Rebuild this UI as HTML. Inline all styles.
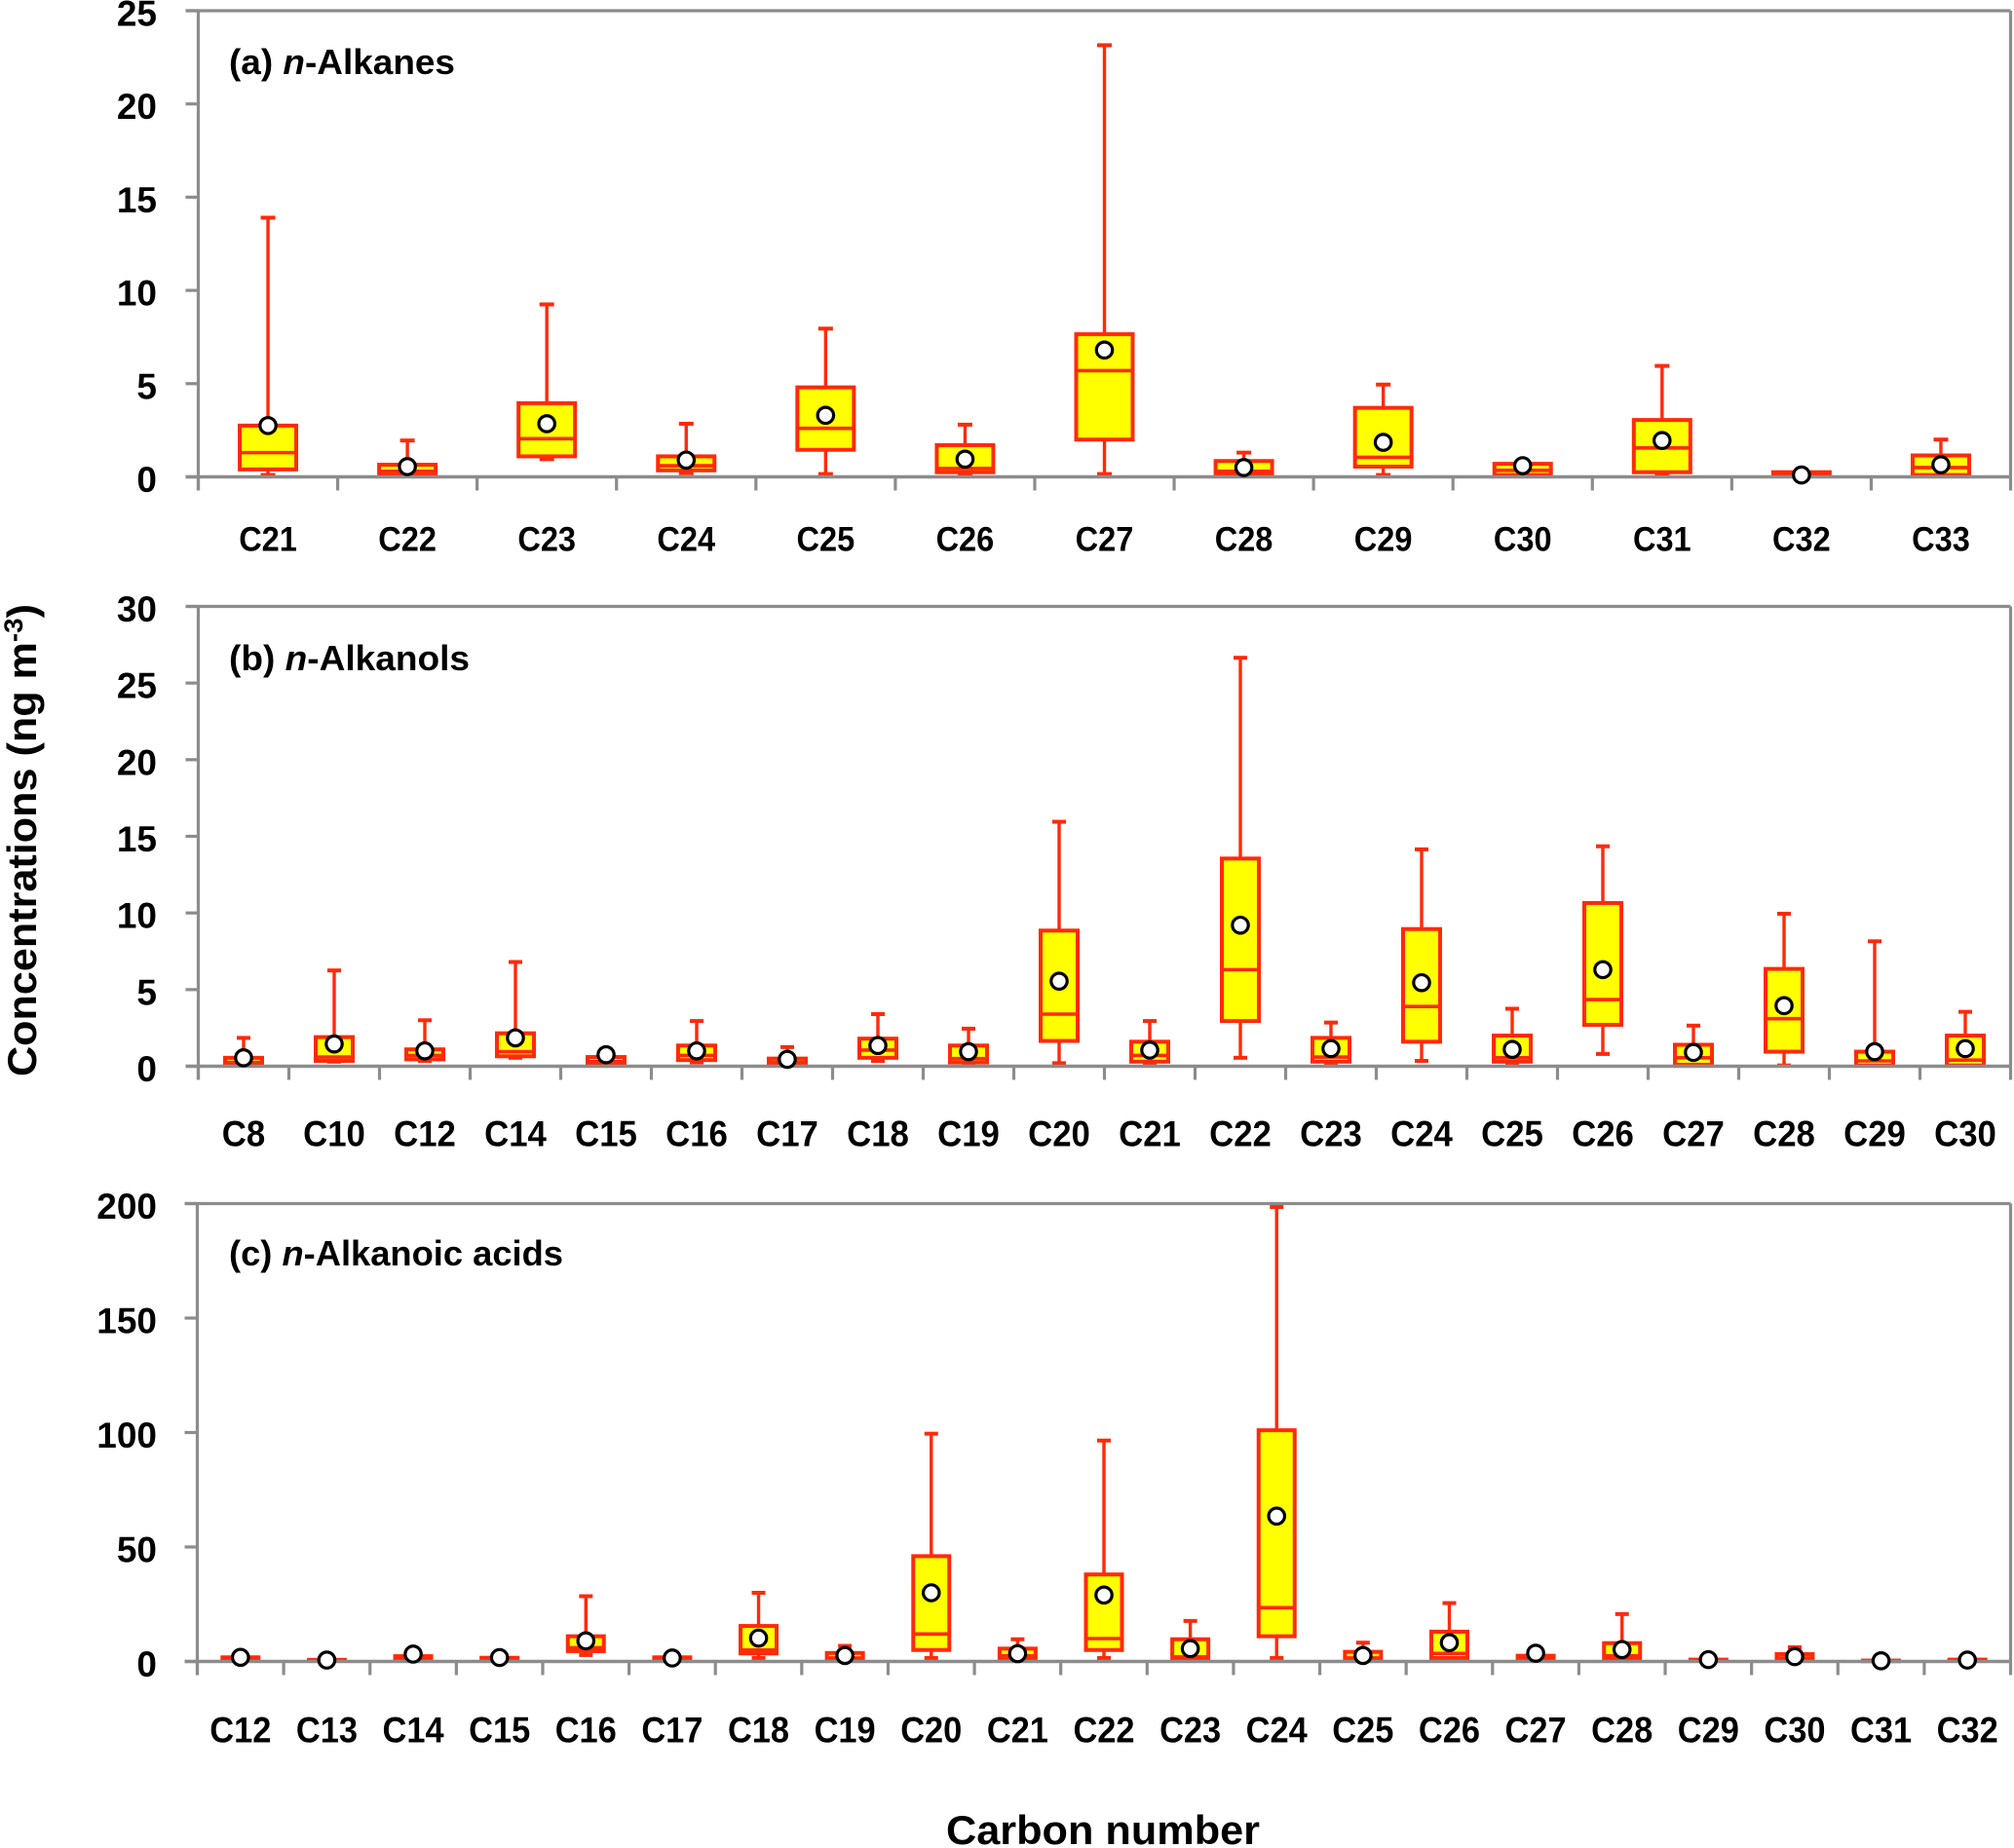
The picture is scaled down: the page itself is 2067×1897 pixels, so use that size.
<!DOCTYPE html>
<html lang="en">
<head>
<meta charset="utf-8">
<title>n-Alkanes, n-Alkanols and n-Alkanoic acids concentrations</title>
<style>
html,body{margin:0;padding:0;background:#fff;}
svg{display:block;}
text{font-family:"Liberation Sans",sans-serif;font-weight:bold;fill:#000;}
</style>
</head>
<body>
<svg id="chart" xmlns="http://www.w3.org/2000/svg" width="2067" height="1897" viewBox="0 0 2067 1897">
  <rect x="0" y="0" width="2067" height="1897" fill="#ffffff"/>
  <text transform="translate(37,1105) rotate(-90)" font-size="42" textLength="485" lengthAdjust="spacingAndGlyphs">Concentrations (ng m<tspan dy="-14" font-size="27">-3</tspan><tspan dy="14">)</tspan></text>
  <text x="971" y="1893" font-size="42" textLength="322" lengthAdjust="spacingAndGlyphs">Carbon number</text>
  <text x="235" y="76" font-size="36" textLength="232" lengthAdjust="spacingAndGlyphs">(a) <tspan font-style="italic">n</tspan>-Alkanes</text>
  <text x="235" y="688" font-size="36" textLength="247" lengthAdjust="spacingAndGlyphs">(b) <tspan font-style="italic">n</tspan>-Alkanols</text>
  <text x="235" y="1299" font-size="36" textLength="343" lengthAdjust="spacingAndGlyphs">(c) <tspan font-style="italic">n</tspan>-Alkanoic acids</text>
  <g id="plots"></g>
</svg>
<script>
// Panel (a) n-Alkanes
const alkaneCategories = ['C21','C22','C23','C24','C25','C26','C27','C28','C29','C30','C31','C32','C33'];
const alkaneMin    = [0.1,0.1,0.95,0.2,0.15,0.15,0.15,0.1,0.1,0.05,0.15,0.05,0.05];
const alkaneQ1     = [0.4,0.1,1.1,0.35,1.45,0.25,2.0,0.15,0.55,0.1,0.25,0.05,0.1];
const alkaneMedian = [1.3,0.3,2.05,0.6,2.6,0.45,5.7,0.3,1.05,0.35,1.55,0.15,0.5];
const alkaneQ3     = [2.75,0.65,3.95,1.1,4.8,1.7,7.65,0.85,3.7,0.7,3.05,0.25,1.15];
const alkaneMax    = [13.9,1.95,9.25,2.85,7.95,2.8,23.15,1.3,4.95,0.7,5.95,0.25,2.0];
const alkaneMean   = [2.75,0.55,2.85,0.9,3.3,0.95,6.8,0.5,1.85,0.6,1.95,0.1,0.65];
const alkaneTicks  = [0,5,10,15,20,25];

// Panel (b) n-Alkanols
const alkanolCategories = ['C8','C10','C12','C14','C15','C16','C17','C18','C19','C20','C21','C22','C23','C24','C25','C26','C27','C28','C29','C30'];
const alkanolMin    = [0.05,0.3,0.35,0.55,0.05,0.25,0.05,0.35,0.1,0.2,0.15,0.55,0.1,0.35,0.15,0.8,0.05,0.05,0.05,0.05];
const alkanolQ1     = [0.1,0.35,0.45,0.65,0.1,0.4,0.1,0.55,0.25,1.65,0.3,2.95,0.3,1.6,0.3,2.7,0.1,0.95,0.05,0.05];
const alkanolMedian = [0.25,0.6,0.7,0.95,0.3,0.7,0.25,1.05,0.5,3.4,0.7,6.3,0.6,3.9,0.55,4.35,0.55,3.1,0.35,0.4];
const alkanolQ3     = [0.55,1.9,1.1,2.15,0.6,1.35,0.5,1.8,1.35,8.85,1.6,13.55,1.85,8.95,2.0,10.65,1.4,6.35,0.95,2.0];
const alkanolMax    = [1.85,6.25,3.0,6.8,0.7,2.95,1.25,3.4,2.45,15.95,2.95,26.65,2.85,14.15,3.75,14.35,2.65,9.95,8.15,3.55];
const alkanolMean   = [0.55,1.45,1.0,1.85,0.75,1.0,0.45,1.35,0.95,5.55,1.05,9.2,1.15,5.45,1.1,6.3,0.9,3.95,0.95,1.15];
const alkanolTicks  = [0,5,10,15,20,25,30];

// Panel (c) n-Alkanoic acids
const acidCategories = ['C12','C13','C14','C15','C16','C17','C18','C19','C20','C21','C22','C23','C24','C25','C26','C27','C28','C29','C30','C31','C32'];
const acidMin    = [0.3,0.1,0.4,0.2,2.8,0.2,1.5,0.5,1.5,0.5,1.5,0.5,1.5,0.5,0.8,0.3,0.5,0.1,0.3,0.05,0.1];
const acidQ1     = [0.5,0.2,0.6,0.4,4.5,0.4,3.5,0.8,5,1,5,1,11,0.8,1.5,0.6,1,0.2,0.6,0.1,0.2];
const acidMedian = [1,0.4,1.2,0.8,6,0.9,5,1.5,12,2.5,10,2,23.5,1.5,3.5,1.2,2.5,0.5,1.5,0.2,0.4];
const acidQ3     = [1.8,0.7,2.3,1.6,11,1.8,15.5,3.7,46,5.6,38,9.7,101,4.2,13,2.5,8,0.8,3.2,0.4,0.8];
const acidMax    = [2,0.9,2.6,1.8,28.5,2,30,6.8,99.5,9.7,96.5,17.7,198.5,8.2,25.5,2.8,20.7,1,6.2,0.5,1];
const acidMean   = [1.8,0.6,3.2,1.7,9,1.5,10.2,2.6,30,3.4,29,5.6,63.5,2.6,8.2,3.6,5.2,0.8,2.1,0.3,0.6];
const acidTicks  = [0,50,100,150,200];

const NS = 'http://www.w3.org/2000/svg';
const AXIS = '#8c8c8c', RED = '#ff2a0a', YELLOW = '#ffff00';
const root = document.getElementById('plots');

function shape(parent, tag, props) {
  const el = document.createElementNS(NS, tag);
  for (const k in props) el.setAttribute(k, props[k]);
  parent.appendChild(el);
  return el;
}

function drawPanel(p) {
  const g = shape(root, 'g', {});
  
  
  const yScale = v => p.y0 - (v / p.yMax) * (p.y0 - p.yTop);
  const step = (p.x1 - p.x0) / p.cats.length;
  const xCenter = i => p.x0 + step * (i + 0.5);

  const top = shape(g, 'line', {x1:p.x0 - 13, y1:p.yTop, x2:p.x1, y2:p.yTop, stroke:AXIS, 'stroke-width':3.2});
  
  
  const right = shape(g, 'line', {x1:p.x1, y1:p.yTop, x2:p.x1, y2:p.y0 + 14, stroke:AXIS, 'stroke-width':3.2});
  
  

  const yAxis = shape(g, 'line', {x1:p.x0, y1:p.yTop, x2:p.x0, y2:p.y0 + 14, stroke:AXIS, 'stroke-width':3.2});
  
  
  p.ticks.forEach(t => {
    const y = yScale(t);
    const tick = shape(g, 'line', {x1:p.x0 - 13, y1:y, x2:p.x0, y2:y, stroke:AXIS, 'stroke-width':3.2});
    
    
    const lab = shape(g, 'text', {x:161, y:y + 15.5, 'font-size':37, 'text-anchor':'end'});
    
    
    lab.textContent = t;
  });

  p.cats.forEach((c, i) => {
    const tx = p.x0 + step * i;
    const tick = shape(g, 'line', {x1:tx, y1:p.y0, x2:tx, y2:p.y0 + 14, stroke:AXIS, 'stroke-width':3.2});
    
    
    const widthEm = 0.722 + 0.556 * (c.length - 1);
    const lab = shape(g, 'text', {x:xCenter(i), y:p.y0 + p.labelDy, 'font-size':p.catFont, 'text-anchor':'middle', textLength:widthEm * p.catFont * p.catSqueeze, lengthAdjust:'spacingAndGlyphs'});
    
    
    lab.textContent = c;
  });

  p.cats.forEach((c, i) => {
    const cx = xCenter(i);
    const box = shape(g, 'g', {});
    
    
    const yMin = yScale(p.min[i]), yQ1 = yScale(p.q1[i]), yMed = yScale(p.median[i]), yQ3 = yScale(p.q3[i]), yMaxV = yScale(p.max[i]);
    const whisker = shape(box, 'line', {x1:cx, y1:yMin, x2:cx, y2:yMaxV, stroke:RED, 'stroke-width':3.4});
    
    
    const capHi = shape(box, 'line', {x1:cx - p.cap / 2, y1:yMaxV, x2:cx + p.cap / 2, y2:yMaxV, stroke:RED, 'stroke-width':4});
    
    
    const capLo = shape(box, 'line', {x1:cx - p.cap / 2, y1:yMin, x2:cx + p.cap / 2, y2:yMin, stroke:RED, 'stroke-width':4});
    
    
    const rect = shape(box, 'rect', {x:cx - p.box / 2, y:yQ3, width:p.box, height:Math.max(yQ1 - yQ3, 0), fill:YELLOW, stroke:RED, 'stroke-width':4});
    
    
    const med = shape(box, 'line', {x1:cx - p.box / 2, y1:yMed, x2:cx + p.box / 2, y2:yMed, stroke:RED, 'stroke-width':3.6});
    
    
  });

  const xAxis = shape(g, 'line', {x1:p.x0 - 13, y1:p.y0, x2:p.x1, y2:p.y0, stroke:AXIS, 'stroke-width':3.6});
  
  
  p.cats.forEach((c, i) => {
    const mean = shape(g, 'circle', {cx:xCenter(i), cy:yScale(p.mean[i]), r:8.2, fill:'#ffffff', stroke:'#000000', 'stroke-width':3.2});
    
    
  });
}

drawPanel({name:'panel-a-alkanes', cats:alkaneCategories, min:alkaneMin, q1:alkaneQ1, median:alkaneMedian, q3:alkaneQ3, max:alkaneMax, mean:alkaneMean, ticks:alkaneTicks, yMax:25, x0:203.5, x1:2063.5, yTop:11, y0:489.5, box:58, cap:15, catFont:35, catSqueeze:0.93, labelDy:76});
drawPanel({name:'panel-b-alkanols', cats:alkanolCategories, min:alkanolMin, q1:alkanolQ1, median:alkanolMedian, q3:alkanolQ3, max:alkanolMax, mean:alkanolMean, ticks:alkanolTicks, yMax:30, x0:203.5, x1:2063.5, yTop:622.5, y0:1094.5, box:38, cap:14, catFont:37, catSqueeze:0.94, labelDy:82});
drawPanel({name:'panel-c-alkanoic-acids', cats:acidCategories, min:acidMin, q1:acidQ1, median:acidMedian, q3:acidQ3, max:acidMax, mean:acidMean, ticks:acidTicks, yMax:200, x0:202.5, x1:2063.5, yTop:1235.5, y0:1705.5, box:37, cap:14, catFont:37, catSqueeze:0.93, labelDy:83});
</script>
</body>
</html>
